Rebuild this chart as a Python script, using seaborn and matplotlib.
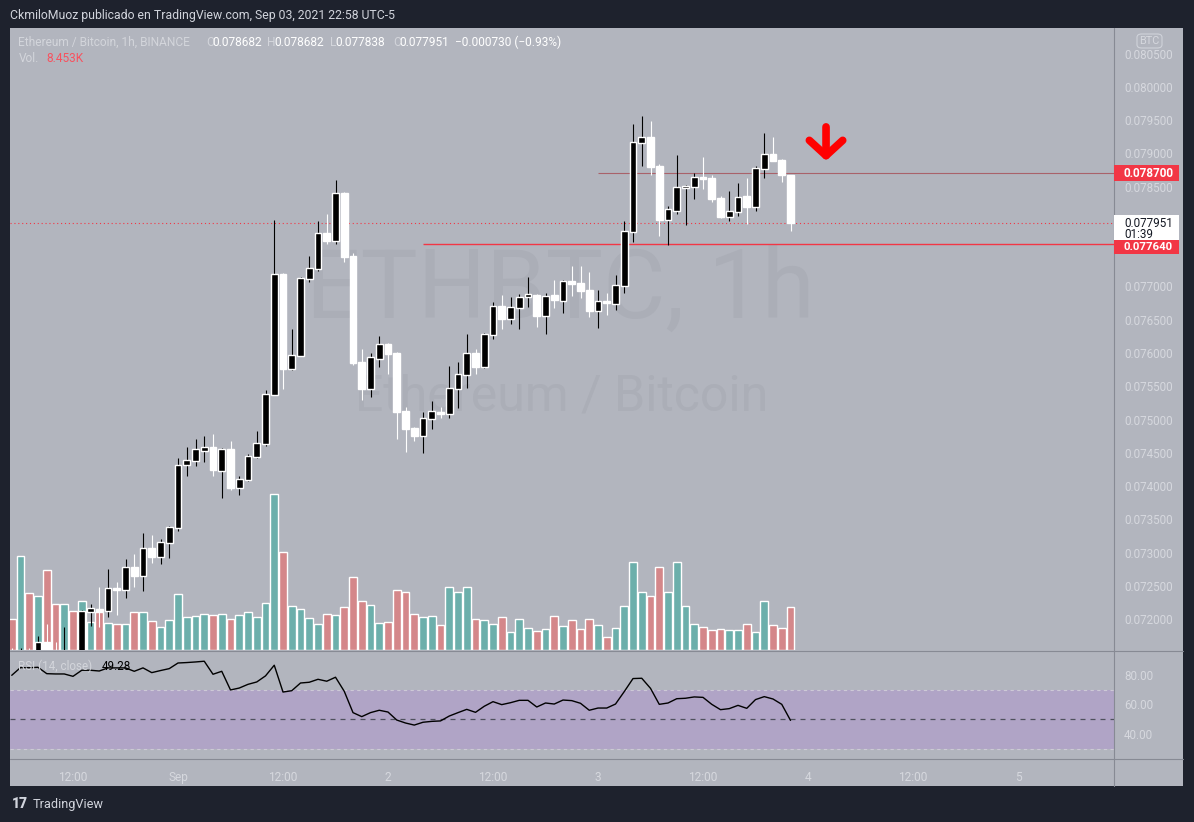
import matplotlib
matplotlib.use('Agg')
import matplotlib.pyplot as plt
from matplotlib.patches import Rectangle, FancyBboxPatch
from matplotlib.lines import Line2D
import seaborn as sns

# hours from Sep 1 00:00 (UTC-5), 1h candles ETH/BTC
hours = list(range(-19, 71))

opens = [0.071520, 0.071450, 0.071520, 0.071420, 0.071659, 0.071480, 0.071400, 0.071500, 0.071470, 0.072110,
         0.072146, 0.072125, 0.072462, 0.072440, 0.072782, 0.072651, 0.073067, 0.072937, 0.073147, 0.073373,
         0.074320, 0.074381, 0.074531, 0.074586, 0.074230, 0.074556, 0.073974, 0.074090, 0.074441, 0.074631,
         0.075373, 0.077188, 0.075764, 0.075959, 0.077117, 0.077268, 0.077804, 0.077689, 0.078406, 0.077459,
         0.075865, 0.075463, 0.075914, 0.076135, 0.076000, 0.075128, 0.074872, 0.074756, 0.075012, 0.075113,
         0.075087, 0.075459, 0.075669, 0.076000, 0.075789, 0.076275, 0.076707, 0.076511, 0.076677, 0.076842,
         0.076872, 0.076556, 0.076872, 0.076782, 0.077083, 0.077053, 0.076947, 0.076631, 0.076782, 0.076737,
         0.077007, 0.077820, 0.079158, 0.079248, 0.078812, 0.078000, 0.078135, 0.078481, 0.078496, 0.078647,
         0.078632, 0.078331, 0.078045, 0.078120, 0.078361, 0.078195, 0.078767, 0.078992, 0.078902, 0.078682]
highs = [0.071560, 0.071564, 0.071564, 0.071744, 0.071925, 0.071658, 0.071880, 0.071520, 0.072135, 0.072225,
         0.072486, 0.072752, 0.072556, 0.072902, 0.072977, 0.073293, 0.073263, 0.073203, 0.073398, 0.074421,
         0.074586, 0.074707, 0.074752, 0.074782, 0.074571, 0.074677, 0.074150, 0.074481, 0.074827, 0.075443,
         0.078000, 0.077200, 0.076361, 0.077140, 0.077459, 0.077985, 0.078090, 0.078601, 0.078420, 0.077504,
         0.076060, 0.076000, 0.076256, 0.076150, 0.076020, 0.075188, 0.074880, 0.075113, 0.075278, 0.075188,
         0.075804, 0.075865, 0.076286, 0.076060, 0.076300, 0.076767, 0.076872, 0.076842, 0.076887, 0.077143,
         0.076887, 0.076902, 0.077098, 0.077098, 0.077308, 0.077308, 0.077218, 0.076947, 0.076902, 0.077173,
         0.077985, 0.079444, 0.079564, 0.079489, 0.078842, 0.078210, 0.078977, 0.078526, 0.078707, 0.078947,
         0.078677, 0.078361, 0.078436, 0.078556, 0.078632, 0.078812, 0.079308, 0.079248, 0.078910, 0.078682]
lows = [0.071380, 0.071350, 0.071380, 0.071380, 0.071400, 0.071350, 0.071350, 0.071380, 0.071440, 0.071899,
        0.071884, 0.072034, 0.072060, 0.072320, 0.072486, 0.072421, 0.072846, 0.072831, 0.072922, 0.073323,
        0.074155, 0.074305, 0.074365, 0.074155, 0.073824, 0.073944, 0.073869, 0.074080, 0.074425, 0.074606,
        0.075364, 0.075459, 0.075750, 0.075950, 0.077072, 0.077238, 0.077644, 0.077644, 0.077373, 0.075824,
        0.075298, 0.075343, 0.075794, 0.075689, 0.074711, 0.074516, 0.074681, 0.074501, 0.074857, 0.075027,
        0.075027, 0.075173, 0.075474, 0.075684, 0.075780, 0.076210, 0.076361, 0.076436, 0.076361, 0.076692,
        0.076391, 0.076286, 0.076677, 0.076601, 0.076857, 0.076827, 0.076541, 0.076376, 0.076571, 0.076647,
        0.076902, 0.077669, 0.078812, 0.078677, 0.077759, 0.077624, 0.078090, 0.077925, 0.078316, 0.078466,
        0.078271, 0.078030, 0.077985, 0.078060, 0.077940, 0.078135, 0.078632, 0.078880, 0.078571, 0.077838]
closes = [0.071450, 0.071520, 0.071420, 0.071659, 0.071480, 0.071400, 0.071500, 0.071470, 0.072120, 0.072161,
          0.072125, 0.072466, 0.072440, 0.072782, 0.072651, 0.073067, 0.072937, 0.073158, 0.073383, 0.074316,
          0.074391, 0.074556, 0.074586, 0.074245, 0.074556, 0.073974, 0.074105, 0.074451, 0.074646, 0.075383,
          0.077188, 0.075764, 0.075970, 0.077128, 0.077278, 0.077804, 0.077689, 0.078406, 0.077448, 0.075854,
          0.075463, 0.075940, 0.076135, 0.075989, 0.075117, 0.074862, 0.074756, 0.075022, 0.075128, 0.075078,
          0.075474, 0.075684, 0.076000, 0.075789, 0.076286, 0.076707, 0.076511, 0.076692, 0.076842, 0.076887,
          0.076556, 0.076857, 0.076797, 0.077083, 0.077038, 0.076932, 0.076631, 0.076782, 0.076752, 0.077022,
          0.077835, 0.079173, 0.079248, 0.078797, 0.078000, 0.078165, 0.078496, 0.078511, 0.078647, 0.078617,
          0.078316, 0.078045, 0.078135, 0.078346, 0.078195, 0.078782, 0.078992, 0.078887, 0.078677, 0.077951]

# volume in thousands
volumes = [6.09, 18.48, 11.21, 10.62, 15.73, 9.04, 9.04, 7.67, 9.63, 5.50,
           7.47, 5.31, 5.11, 5.11, 7.47, 7.47, 5.70, 4.52, 5.90, 11.01,
           6.49, 6.68, 7.08, 6.88, 7.08, 6.09, 6.88, 7.47, 6.49, 9.24,
           30.67, 19.27, 8.65, 8.06, 6.29, 5.11, 7.08, 6.88, 8.45, 14.35,
           9.63, 8.85, 5.31, 5.50, 11.80, 11.40, 7.08, 6.49, 6.68, 4.92,
           12.39, 11.40, 12.39, 6.09, 5.90, 5.11, 6.49, 3.54, 6.09, 4.33,
           3.74, 4.13, 6.68, 4.72, 5.90, 4.13, 6.09, 4.92, 2.56, 4.33,
           8.65, 17.30, 11.40, 10.62, 16.32, 11.40, 17.30, 8.65, 5.11, 4.52,
           3.93, 4.13, 3.93, 3.93, 5.11, 3.54, 9.63, 4.92, 4.33, 8.453]

rsi = [79.7, 84.9, 84.8, 85.1, 80.8, 80.6, 80.6, 79.0, 83.1, 83.1,
       82.6, 84.7, 84.7, 84.7, 82.4, 84.7, 81.5, 82.9, 84.2, 88.0,
       88.3, 88.7, 89.2, 80.4, 82.4, 69.8, 71.1, 73.6, 75.2, 79.3,
       86.5, 68.4, 69.3, 74.5, 75.0, 77.0, 75.7, 78.4, 68.9, 54.5,
       51.8, 54.5, 56.1, 54.9, 49.5, 47.5, 46.1, 48.0, 48.6, 48.9,
       52.2, 54.5, 56.7, 54.7, 58.8, 61.9, 59.9, 61.2, 62.8, 62.8,
       58.3, 61.0, 60.3, 63.0, 62.6, 60.8, 56.1, 57.6, 57.6, 60.3,
       68.7, 77.5, 77.7, 70.9, 60.1, 61.0, 63.9, 64.2, 65.1, 64.8,
       60.1, 56.5, 57.2, 59.4, 57.4, 63.3, 65.3, 63.7, 60.1, 49.28]

price_ticks = [0.0720, 0.0725, 0.0730, 0.0735, 0.0740, 0.0745, 0.0750, 0.0755,
               0.0760, 0.0765, 0.0770, 0.0785, 0.0790, 0.0795, 0.0800, 0.0805]
rsi_ticks = [40, 60, 80]
time_ticks = [-12, 0, 12, 24, 36, 48, 60, 72, 84, 96]
time_labels = ['12:00', 'Sep', '12:00', '2', '12:00', '3', '12:00', '4', '12:00', '5']

last_price = 0.077951
level_high = 0.078700
level_low = 0.077640

BG = '#b2b5be'
DARK = '#1e222d'
SEP = '#878a94'
LBL = '#d6d8de'
RED = '#f23645'
TEAL = '#6cafab'
VRED = '#d4878a'

sns.set_style('white')
plt.rcParams['font.family'] = ['Roboto', 'DejaVu Sans']

W, H = 1194, 822
fig = plt.figure(figsize=(W / 100, H / 100), dpi=100, facecolor=DARK)


def rect(x0, y0, x1, y1):
    return [x0 / W, 1 - y1 / H, (x1 - x0) / W, (y1 - y0) / H]


def ftext(x, y, s, **kw):
    kw.setdefault('va', 'center')
    kw.setdefault('fontsize', 8.4)
    return fig.text(x / W, 1 - y / H, s, **kw)


def frect(x0, y0, x1, y1, **kw):
    r = Rectangle((x0 / W, 1 - y1 / H), (x1 - x0) / W, (y1 - y0) / H,
                  transform=fig.transFigure, **kw)
    fig.add_artist(r)
    return r


def fline(x0, y0, x1, y1, **kw):
    fig.add_artist(Line2D([x0 / W, x1 / W], [1 - y0 / H, 1 - y1 / H],
                          transform=fig.transFigure, **kw))


# chart background
frect(10, 28, 1183, 786, facecolor=BG, edgecolor='none', zorder=-10)

xlim = (-19.2, 106.97)

# volume pane (behind candles)
ax_vol = fig.add_axes(rect(10, 28, 1114, 650))
ax_vol.axis('off')
ax_vol.set_xlim(*xlim)
ax_vol.set_ylim(0, 122.3)
up = [c >= o for o, c in zip(opens, closes)]
ax_vol.bar(hours, volumes, width=0.87, color=[TEAL if u else VRED for u in up], zorder=2)
ax_vol.text(560 / W, 1 - 292 / H, 'ETHBTC, 1h', transform=fig.transFigure, ha='center', va='center',
            fontsize=69, color='#abaeb7', zorder=1)
ax_vol.text(562 / W, 1 - 396 / H, 'Ethereum / Bitcoin', transform=fig.transFigure, ha='center', va='center',
            fontsize=36, color='#abaeb7', zorder=1)

# price pane
ax = fig.add_axes(rect(10, 28, 1114, 650))
ax.patch.set_visible(False)
for s in ax.spines.values():
    s.set_visible(False)
ax.set_xlim(*xlim)
ax.set_ylim(0.071534, 0.080887)

cols = ['#000000' if u else '#ffffff' for u in up]
ax.vlines(hours, lows, highs, colors=cols, linewidth=0.8, zorder=3)
bottoms = [min(o, c) for o, c in zip(opens, closes)]
heights = [max(abs(c - o), 0.000016) for o, c in zip(opens, closes)]
ax.bar(hours, heights, bottom=bottoms, width=0.77, color=cols, zorder=4)

ax.axhline(last_price, color=RED, ls=(0, (1, 2.5)), lw=0.8, zorder=2)
ax.hlines(level_high, 48, xlim[1], color='#a9626a', lw=0.8, zorder=2)
ax.hlines(level_low, 28, xlim[1], color=RED, lw=1.0, zorder=2)

ax.annotate('', xy=(74.06, 0.078890), xytext=(74.06, 0.079400),
            arrowprops=dict(arrowstyle='->,head_length=0.55,head_width=0.6', color='#ff0000',
                            lw=5.5, mutation_scale=20, shrinkA=0, shrinkB=0,
                            capstyle='round', joinstyle='round'))

ax.set_xticks([])
ax.set_yticks(price_ticks)
ax.set_yticklabels(['%.6f' % t for t in price_ticks])
ax.yaxis.tick_right()
ax.tick_params(axis='y', length=0, pad=7.2, labelsize=8.4, labelcolor=LBL)

# RSI pane
ax_rsi = fig.add_axes(rect(10, 651, 1114, 759))
ax_rsi.patch.set_visible(False)
for s in ax_rsi.spines.values():
    s.set_visible(False)
ax_rsi.set_xlim(*xlim)
ax_rsi.set_ylim(23.2, 96.1)
ax_rsi.axhspan(30, 70, color='#b0a4c6', lw=0, zorder=0)
ax_rsi.axhline(70, color='#cdc9d6', ls=(0, (3, 3)), lw=0.8)
ax_rsi.axhline(30, color='#cdc9d6', ls=(0, (3, 3)), lw=0.8)
ax_rsi.axhline(50, color='#4e515c', ls=(0, (4, 4)), lw=0.9)
sns.lineplot(x=hours, y=rsi, ax=ax_rsi, color='#000000', linewidth=1.0)
ax_rsi.set_xlabel('')
ax_rsi.set_ylabel('')
ax_rsi.set_yticks(rsi_ticks)
ax_rsi.set_yticklabels(['%.2f' % t for t in rsi_ticks])
ax_rsi.yaxis.tick_right()
ax_rsi.set_xticks(time_ticks)
ax_rsi.set_xticklabels(time_labels)
ax_rsi.tick_params(axis='y', length=0, pad=7.2, labelsize=8.4, labelcolor=LBL)
ax_rsi.tick_params(axis='x', length=0, pad=8.5, labelsize=8.6, labelcolor=LBL)

# separators
fline(1114, 28, 1114, 786, color=SEP, lw=0.8)
fline(10, 650.5, 1183, 650.5, color=SEP, lw=0.8)
fline(10, 759, 1183, 759, color=SEP, lw=0.8)


def py(p):
    return H - ax.transData.transform((0, p))[1]


# price labels on the right scale
yh = py(level_high)
frect(1114, yh - 8, 1179, yh + 8, facecolor=RED, edgecolor='none', zorder=5)
ftext(1124, yh, '%.6f' % level_high, color='white', fontweight='bold', zorder=6)
yc = py(last_price)
frect(1114, yc - 8.5, 1179, yc + 17, facecolor='white', edgecolor='none', zorder=5)
ftext(1124, yc, '%.6f' % last_price, color='#131722', zorder=6)
ftext(1124, yc + 11, '01:39', color='#131722', zorder=6)
yl = py(level_low) + 2.5
frect(1114, yl - 6.5, 1179, yl + 7.5, facecolor=RED, edgecolor='none', zorder=7)
ftext(1124, yl + 0.5, '%.6f' % level_low, color='white', fontweight='bold', fontsize=8.2, zorder=8)

btc = FancyBboxPatch((1137 / W, 1 - 48 / H), 25 / W, 14 / H, boxstyle='round,pad=0,rounding_size=0.004',
                     transform=fig.transFigure, facecolor=BG, edgecolor='#d0d3da', lw=0.8, zorder=5)
fig.add_artist(btc)
ftext(1149.5, 41, 'BTC', color='#d6d8de', ha='center', fontsize=7.8, zorder=6)

# header texts
ftext(9.6, 15, 'CkmiloMuoz publicado en TradingView.com, Sep 03, 2021 22:58 UTC-5', color='#d1d4dc', fontsize=8.8)
ftext(18.4, 42, 'Ethereum / Bitcoin, 1h, BINANCE', color='#d3d5db', fontsize=8.6)
for lx, vx, letter, val in [(206, 212.4, 'O', opens[-1]), (266.7, 274.8, 'H', highs[-1]),
                            (330, 335.6, 'L', lows[-1]), (393, 399.2, 'C', closes[-1])]:
    ftext(lx, 42, letter, color='#d3d5db', fontsize=8.6)
    ftext(vx, 42, '%.6f' % val, color='white', fontsize=8.6)
ftext(455.4, 42, '\u22120.000730 (\u22120.93%)', color='white', fontsize=8.6)
ftext(18.4, 59, 'Vol.', color='#d3d5db', fontsize=8.6)
ftext(46, 59, '%.3fK' % volumes[-1], color='#f7525f', fontsize=8.6)

ftext(18, 666, 'RSI (14, close)', color='#d3d5db')
ftext(102, 666, '%.2f' % rsi[-1], color='#000000')

# footer logo
ftext(12, 804, '17', color='#d1d4dc', fontsize=10, fontweight='heavy')
ftext(33, 804, 'TradingView', color='#d1d4dc', fontsize=9.2)

fig.savefig('out.png', dpi=100, facecolor=DARK)
